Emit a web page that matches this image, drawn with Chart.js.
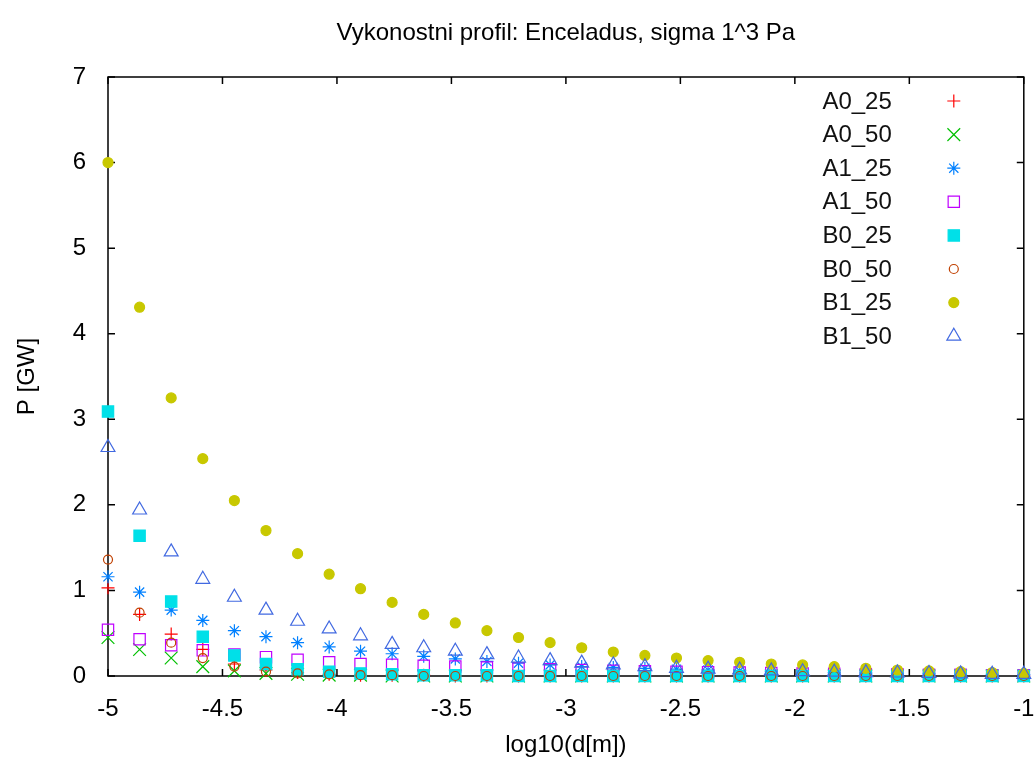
<!DOCTYPE html>
<html>
<head>
<meta charset="utf-8">
<title>Vykonostni profil</title>
<script src="https://cdn.jsdelivr.net/npm/chart.js@4.4.1/dist/chart.umd.min.js"></script>
<style>
  body { margin: 0; background: #fff; }
  canvas { display: block; }
</style>
</head>
<body>
<canvas id="myChart" width="1034" height="774"></canvas>
<script>
// log10 of d [m]
var logD = [-5, -4.862, -4.724, -4.586, -4.448, -4.310, -4.172, -4.034, -3.897, -3.759,
            -3.621, -3.483, -3.345, -3.207, -3.069, -2.931, -2.793, -2.655, -2.517, -2.379,
            -2.241, -2.103, -1.966, -1.828, -1.690, -1.552, -1.414, -1.276, -1.138, -1];

// P [GW]
var a0_25 = [1.03, 0.72, 0.49, 0.31, 0.14, 0.07, 0.04, 0.02, 0.01, 0.01, 0.01, 0, 0, 0, 0, 0, 0, 0, 0, 0, 0, 0, 0, 0, 0, 0, 0, 0, 0, 0];
var a0_50 = [0.45, 0.31, 0.21, 0.11, 0.06, 0.03, 0.02, 0.01, 0.01, 0, 0, 0, 0, 0, 0, 0, 0, 0, 0, 0, 0, 0, 0, 0, 0, 0, 0, 0, 0, 0];
var a1_25 = [1.16, 0.98, 0.77, 0.65, 0.53, 0.46, 0.39, 0.34, 0.29, 0.26, 0.23, 0.20, 0.17, 0.15, 0.13, 0.11, 0.10, 0.09, 0.08, 0.07,
             0.06, 0.05, 0.045, 0.04, 0.035, 0.03, 0.025, 0.02, 0.02, 0.015];
var a1_50 = [0.54, 0.43, 0.36, 0.30, 0.25, 0.22, 0.19, 0.16, 0.14, 0.13, 0.12, 0.11, 0.10, 0.09, 0.08, 0.07, 0.06, 0.055, 0.05, 0.045,
             0.04, 0.035, 0.03, 0.025, 0.02, 0.02, 0.015, 0.015, 0.01, 0.01];
var b0_25 = [3.09, 1.64, 0.87, 0.46, 0.24, 0.14, 0.08, 0.05, 0.03, 0.02, 0.01, 0.01, 0.01, 0, 0, 0, 0, 0, 0, 0, 0, 0, 0, 0, 0, 0, 0, 0, 0, 0];
var b0_50 = [1.36, 0.74, 0.39, 0.21, 0.11, 0.05, 0.03, 0.02, 0.01, 0.01, 0, 0, 0, 0, 0, 0, 0, 0, 0, 0, 0, 0, 0, 0, 0, 0, 0, 0, 0, 0];
var b1_25 = [6.00, 4.31, 3.25, 2.54, 2.05, 1.70, 1.43, 1.19, 1.02, 0.86, 0.72, 0.62, 0.53, 0.45, 0.39, 0.33, 0.28, 0.24, 0.21, 0.18,
             0.16, 0.14, 0.13, 0.11, 0.09, 0.07, 0.06, 0.05, 0.04, 0.03];
var b1_50 = [2.67, 1.94, 1.45, 1.13, 0.92, 0.77, 0.64, 0.55, 0.47, 0.37, 0.33, 0.29, 0.25, 0.21, 0.18, 0.15, 0.13, 0.11, 0.09, 0.08,
             0.07, 0.06, 0.05, 0.045, 0.04, 0.035, 0.03, 0.025, 0.02, 0.02];

var seriesNames = ['A0_25', 'A0_50', 'A1_25', 'A1_50', 'B0_25', 'B0_50', 'B1_25', 'B1_50'];
var seriesValues = [a0_25, a0_50, a1_25, a1_50, b0_25, b0_50, b1_25, b1_50];

// gnuplot-like point types
var colors = ['#ff0000', '#00c000', '#0080ff', '#c000ff', '#00e0e8', '#c04000', '#c8c800', '#4169e1'];
var shapes = ['cross', 'crossRot', 'star', 'rect', 'rect', 'circle', 'circle', 'triangle'];
var radii = [6.5, 9, 6.5, 8, 8, 4.5, 5, 8];
var filled = [false, false, false, false, true, false, true, false];

var fontFamily = '"Liberation Sans", Arial, Helvetica, sans-serif';
Chart.defaults.font.family = fontFamily;
Chart.defaults.color = '#000';

var datasets = seriesNames.map(function (name, i) {
    return {
        label: name,
        data: logD.map(function (x, j) { return { x: x, y: seriesValues[i][j] }; }),
        pointStyle: shapes[i],
        pointRadius: radii[i],
        pointBorderWidth: 1.2,
        pointBorderColor: colors[i],
        pointBackgroundColor: filled[i] ? colors[i] : 'rgba(0,0,0,0)',
        showLine: false,
        clip: false,
        order: seriesNames.length - i
    };
});

// border box, inward mirrored ticks and the key, drawn the gnuplot way
var gnuplotFrame = {
    id: 'gnuplotFrame',
    beforeDatasetsDraw: function (chart) {
        var ctx = chart.ctx, a = chart.chartArea;
        var xs = chart.scales.x, ys = chart.scales.y;
        var len = 7;
        ctx.save();
        ctx.strokeStyle = '#000';
        ctx.lineWidth = 1.5;
        ctx.beginPath();
        xs.ticks.forEach(function (t) {
            var px = xs.getPixelForValue(t.value);
            ctx.moveTo(px, a.bottom); ctx.lineTo(px, a.bottom - len);
            ctx.moveTo(px, a.top); ctx.lineTo(px, a.top + len);
        });
        ys.ticks.forEach(function (t) {
            var py = ys.getPixelForValue(t.value);
            ctx.moveTo(a.left, py); ctx.lineTo(a.left + len, py);
            ctx.moveTo(a.right, py); ctx.lineTo(a.right - len, py);
        });
        ctx.stroke();
        ctx.strokeRect(a.left, a.top, a.right - a.left, a.bottom - a.top);
        ctx.restore();
    },
    afterDraw: function (chart) {
        var ctx = chart.ctx, a = chart.chartArea;
        ctx.save();
        ctx.font = '24px ' + fontFamily;
        ctx.textAlign = 'right';
        ctx.textBaseline = 'middle';
        chart.data.datasets.forEach(function (ds, i) {
            var y = a.top + 24 + i * 33.6;
            ctx.fillStyle = '#111';
            ctx.fillText(ds.label, a.right - 132, y + 1);
            ctx.strokeStyle = ds.pointBorderColor;
            ctx.fillStyle = ds.pointBackgroundColor;
            ctx.lineWidth = ds.pointBorderWidth;
            Chart.helpers.drawPoint(ctx, {
                pointStyle: ds.pointStyle,
                radius: ds.pointRadius,
                rotation: 0,
                borderWidth: ds.pointBorderWidth
            }, a.right - 70, y);
        });
        ctx.restore();
    }
};

var ctx = document.getElementById('myChart').getContext('2d');
var myChart = new Chart(ctx, {
    type: 'scatter',
    data: { datasets: datasets },
    plugins: [gnuplotFrame],
    options: {
        responsive: false,
        animation: false,
        events: [],
        layout: { padding: { left: 0, right: 9, top: 0, bottom: 0 } },
        plugins: {
            legend: { display: false },
            tooltip: { enabled: false },
            title: {
                display: true,
                fullSize: false,
                text: 'Vykonostni profil: Enceladus, sigma 1^3 Pa',
                color: '#000',
                font: { size: 24, weight: 'normal' },
                padding: { top: 18.5, bottom: 29.7 }
            }
        },
        scales: {
            x: {
                type: 'linear',
                min: -5,
                max: -1,
                grid: { display: false },
                border: { display: false },
                ticks: {
                    stepSize: 0.5,
                    padding: 11,
                    font: { size: 24 },
                    maxRotation: 0,
                    callback: function (v) { return String(v); }
                },
                title: {
                    display: true,
                    text: 'log10(d[m])',
                    font: { size: 24 },
                    padding: { top: 0, bottom: 14.5 }
                },
                afterFit: function (scale) {
                    scale.height = 98;
                    scale.paddingLeft = 0;
                    scale.paddingRight = 0;
                }
            },
            y: {
                min: 0,
                max: 7,
                grid: { display: false },
                border: { display: false },
                ticks: {
                    stepSize: 1,
                    padding: 14,
                    font: { size: 24 },
                    callback: function (v) { return String(v); }
                },
                title: {
                    display: true,
                    text: 'P [GW]',
                    font: { size: 24 },
                    padding: { top: 13, bottom: 0 }
                },
                afterFit: function (scale) {
                    scale.width = 108;
                    scale.paddingTop = 0;
                    scale.paddingBottom = 0;
                }
            }
        }
    }
});
</script>
</body>
</html>
